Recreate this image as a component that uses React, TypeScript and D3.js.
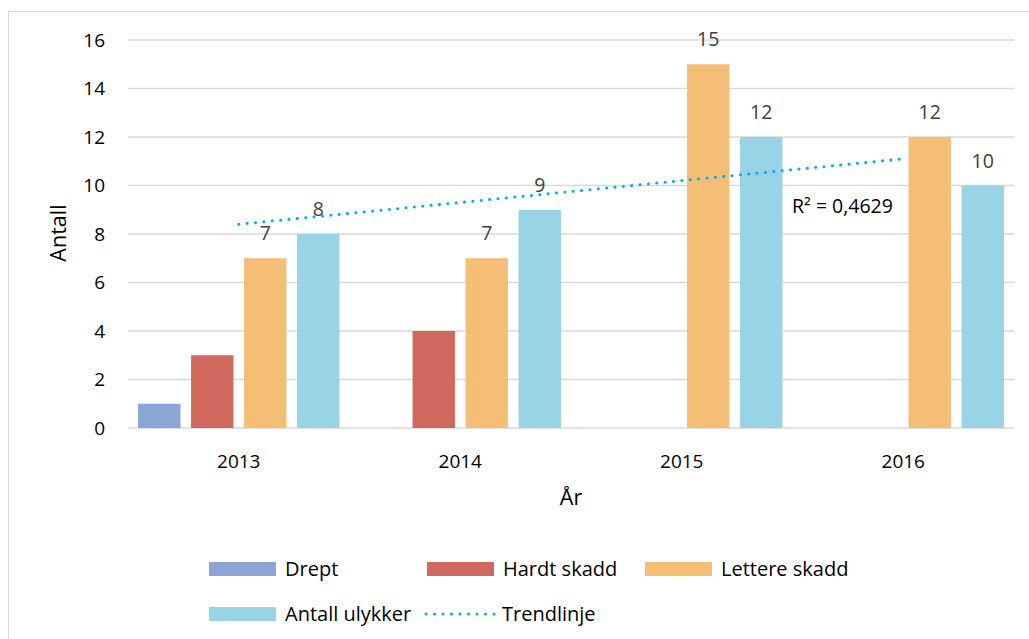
import React from "react";
import * as d3 from "d3";

const years = ["2013", "2014", "2015", "2016"];
const seriesNames = ["Drept", "Hardt skadd", "Lettere skadd", "Antall ulykker"];
const drept = [1, 0, 0, 0];
const hardtSkadd = [3, 4, 0, 0];
const lettereSkadd = [7, 7, 15, 12];
const antallUlykker = [8, 9, 12, 10];
const showLabels = [false, false, true, true];
const colors = ["#8aa5d6", "#d0685d", "#f4be76", "#98d4e6"];
const yTicks = [0, 2, 4, 6, 8, 10, 12, 14, 16];
const trendColor = "#00b0f0";

const FONT = "'Open Sans', 'Noto Sans', sans-serif";

export default function App() {
  const W = 1029, H = 639;
  const left = 128, right = 1014, top = 40, bottom = 428;
  const seriesData = [drept, hardtSkadd, lettereSkadd, antallUlykker];

  const x0 = d3.scaleBand<string>().domain(years).range([left, right]).padding(0);
  const x1 = d3.scaleBand<string>().domain(seriesNames).range([0, x0.bandwidth()]).paddingInner(0.2).paddingOuter(0.19);
  const y = d3.scaleLinear().domain([0, 16]).range([bottom, top]);

  // linear regression trend on Antall ulykker
  const xs = antallUlykker.map((_, i) => i + 1);
  const mx = d3.mean(xs)!, my = d3.mean(antallUlykker)!;
  const slope = d3.sum(xs.map((xv, i) => (xv - mx) * (antallUlykker[i] - my))) / d3.sum(xs.map(xv => (xv - mx) ** 2));
  const intercept = my - slope * mx;
  const pred = xs.map(xv => intercept + slope * xv);
  const ssRes = d3.sum(antallUlykker.map((v, i) => (v - pred[i]) ** 2));
  const ssTot = d3.sum(antallUlykker.map(v => (v - my) ** 2));
  const r2 = 1 - ssRes / ssTot;
  const cx = (yr: string) => x0(yr)! + x0.bandwidth() / 2;
  const line = d3.line<number>().x((_, i) => cx(years[i])).y(v => y(v));

  return (
    <svg width={W} height={H} style={{ display: "block", position: "absolute", left: 0, top: 0 }} fontFamily={FONT}>
      <rect x={0} y={0} width={W} height={H} fill="#fff" />
      <rect x={8.5} y={11.5} width={1040} height={700} fill="#fff" stroke="#d9d9d9" strokeWidth={1} />
      {yTicks.map(t => (
        <g key={t}>
          <line x1={left} x2={right} y1={y(t)} y2={y(t)} stroke="#d9d9d9" strokeWidth={1.3} />
          <text x={105} y={y(t) + 6.5} textAnchor="end" fontSize={19} fill="#000">{t}</text>
        </g>
      ))}
      {years.map((yr, i) => (
        <g key={yr}>
          {seriesNames.map((s, j) => {
            const v = seriesData[j][i];
            const bx = x0(yr)! + x1(s)!;
            return (
              <g key={s}>
                {v > 0 && (
                  <rect x={bx} y={y(v)} width={x1.bandwidth()} height={y(0) - y(v)} fill={colors[j]} />
                )}
                {v > 0 && showLabels[j] && (
                  <text x={bx + x1.bandwidth() / 2} y={y(v) - 18} textAnchor="middle" fontSize={19.5} fill="#404040">{v}</text>
                )}
              </g>
            );
          })}
          <text x={cx(yr)} y={468} textAnchor="middle" fontSize={19} fill="#000">{yr}</text>
        </g>
      ))}
      <path d={line(pred)!} fill="none" stroke={trendColor} strokeWidth={3} strokeLinecap="round" strokeDasharray="0.1 8.3" />
      <text x={792} y={213} fontSize={19.5} fill="#000">{`R² = ${r2.toFixed(4).replace(".", ",")}`}</text>
      <text transform={`translate(66,233) rotate(-90)`} textAnchor="middle" fontSize={21.5} fill="#000">Antall</text>
      <text x={571} y={505} textAnchor="middle" fontSize={21.5} fill="#000">År</text>
      {/* legend */}
      {[
        { name: seriesNames[0], x: 209, y: 562, c: colors[0] },
        { name: seriesNames[1], x: 427, y: 562, c: colors[1] },
        { name: seriesNames[2], x: 645, y: 562, c: colors[2] },
        { name: seriesNames[3], x: 209, y: 607, c: colors[3] },
      ].map(l => (
        <g key={l.name}>
          <rect x={l.x} y={l.y} width={67} height={14} fill={l.c} />
          <text x={l.x + 76} y={l.y + 14} fontSize={20} fill="#000">{l.name}</text>
        </g>
      ))}
      <line x1={426} x2={494} y1={614} y2={614} stroke={trendColor} strokeWidth={3} strokeLinecap="round" strokeDasharray="0.1 8.4" />
      <text x={502} y={621} fontSize={20} fill="#000">Trendlinje</text>
    </svg>
  );
}
